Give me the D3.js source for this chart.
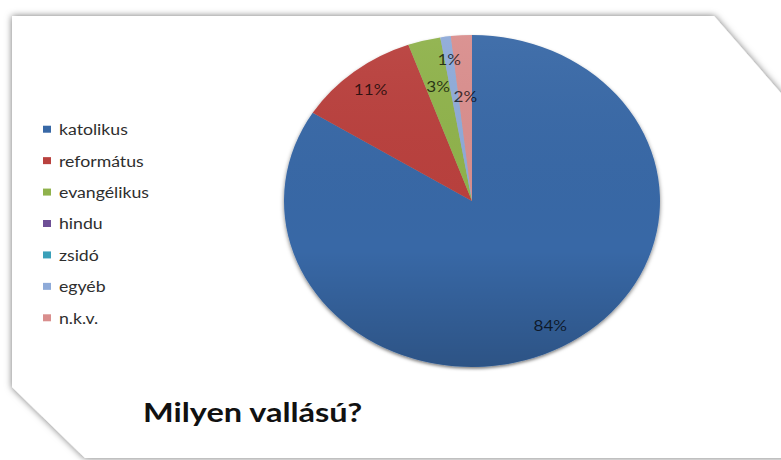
<!DOCTYPE html>
<html>
<head>
<meta charset="utf-8">
<script src="https://cdn.jsdelivr.net/npm/d3@7"></script>
<style>
  html, body { margin: 0; padding: 0; background: #fff; }
  svg { display: block; }
</style>
</head>
<body>
<svg id="chart" width="781" height="460"></svg>
<script>
// chart data (percent shares; labels are rounded)
var categories = ['katolikus', 'református', 'evangélikus', 'hindu', 'zsidó', 'egyéb', 'n.k.v.'];
var values = [84.0, 10.6, 2.8, 0, 0, 0.9, 1.8];
var colors = ['#3868a6', '#b9413e', '#8fb24c', '#6e4f96', '#3aa0b9', '#8eaad8', '#d98e8d'];
var title = 'Milyen vallású?';

// label radius (fraction of pie radius) per slice, as placed in the original
var labelRadius = [0.86, 0.86, 0.71, 0.8, 0.8, 0.86, 0.63];

// the original picture is stretched a little horizontally
var stretch = 1.14;

var svg = d3.select('#chart');
var defs = svg.append('defs');

// soft shadow around the frame
var fs = defs.append('filter').attr('id', 'frameShadow')
        .attr('x', '-10%').attr('y', '-10%').attr('width', '120%').attr('height', '120%');
fs.append('feDropShadow').attr('dx', 0).attr('dy', 0)
        .attr('stdDeviation', 3.5).attr('flood-color', '#000').attr('flood-opacity', 0.55);

// shadow under the pie
var ps = defs.append('filter').attr('id', 'pieShadow')
        .attr('x', '-10%').attr('y', '-10%').attr('width', '120%').attr('height', '120%');
ps.append('feDropShadow').attr('dx', 0).attr('dy', 2)
        .attr('stdDeviation', 2).attr('flood-color', '#000').attr('flood-opacity', 0.5);

// shading over the pie
var grad = defs.append('linearGradient').attr('id', 'pieShade')
        .attr('x1', 0).attr('y1', 0).attr('x2', 0).attr('y2', 1);
grad.append('stop').attr('offset', '0%').attr('stop-color', '#fff').attr('stop-opacity', 0.05);
grad.append('stop').attr('offset', '65%').attr('stop-color', '#000').attr('stop-opacity', 0.0);
grad.append('stop').attr('offset', '100%').attr('stop-color', '#000').attr('stop-opacity', 0.2);

// frame with cut corners
var frame = [[12, 16], [714, 16], [800, 115], [800, 458], [85, 458], [12, 387]];
svg.append('path')
        .attr('d', d3.line()(frame) + 'Z')
        .attr('fill', '#fff')
        .attr('filter', 'url(#frameShadow)');

// pie (slightly flattened, like the original)
var cx = 472, cy = 201, rx = 188, ry = 166;

var pie = d3.pie().sort(null).value(function (d) { return d; });
var arcs = pie(values);
var arc = d3.arc().innerRadius(0).outerRadius(rx);

var pieG = svg.append('g')
        .attr('transform', 'translate(' + cx + ',' + cy + ') scale(1,' + (ry / rx) + ')');

var slices = pieG.append('g').attr('filter', 'url(#pieShadow)');
slices.selectAll('path')
        .data(arcs)
        .enter().append('path')
        .attr('d', arc)
        .attr('fill', function (d, i) { return colors[i]; });

pieG.append('circle')
        .attr('r', rx)
        .attr('fill', 'url(#pieShade)');

// percent labels
svg.append('g').selectAll('text')
        .data(arcs.filter(function (d) { return d.value > 0; }))
        .enter().append('text')
        .attr('transform', function (d) {
            var a = (d.startAngle + d.endAngle) / 2,
                x = cx + Math.sin(a) * rx * labelRadius[d.index],
                y = cy - Math.cos(a) * ry * labelRadius[d.index];
            return 'translate(' + x + ',' + y + ') scale(' + stretch + ',1)';
        })
        .attr('dy', '0.35em')
        .attr('text-anchor', 'middle')
        .attr('font-family', 'Lato, "Open Sans", sans-serif')
        .attr('font-size', 15)
        .attr('fill', '#000')
        .attr('fill-opacity', 0.72)
        .text(function (d) { return Math.round(d.value) + '%'; });

// legend
var y = d3.scaleBand().domain(categories).range([114, 334]);

var legend = svg.append('g');
var rows = legend.selectAll('g')
        .data(categories)
        .enter().append('g')
        .attr('transform', function (d) { return 'translate(43,' + (y(d) + y.bandwidth() / 2) + ')'; });

rows.append('rect')
        .attr('x', 0).attr('y', -4)
        .attr('width', 8).attr('height', 7)
        .attr('fill', function (d, i) { return colors[i]; });

rows.append('text')
        .attr('transform', 'translate(16,0) scale(' + stretch + ',1)')
        .attr('dy', '0.35em')
        .attr('font-family', 'Lato, "Open Sans", sans-serif')
        .attr('font-size', 15.5)
        .attr('fill', '#2e2e2e')
        .text(function (d) { return d; });

// title
svg.append('text')
        .attr('transform', 'translate(143,422) scale(1.25,1)')
        .attr('font-family', 'Lato, "Open Sans", sans-serif')
        .attr('font-weight', 'bold')
        .attr('font-size', 26)
        .attr('fill', '#111')
        .text(title);
</script>
</body>
</html>
